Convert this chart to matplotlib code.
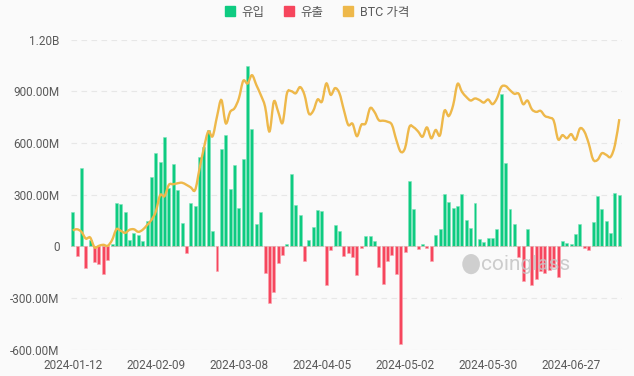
import numpy as np
import matplotlib
matplotlib.use("Agg")
import matplotlib.pyplot as plt
from matplotlib.patches import Patch, PathPatch, Ellipse
from matplotlib.path import Path

plt.rcParams['font.family'] = ['Roboto', 'Noto Sans CJK KR', 'DejaVu Sans']

# daily net flow of BTC spot ETFs, millions USD (trading days from 2024-01-11)
net_flow = [201, -54, 453, -128, 37, -89, -104, -159, -79, 14,
            253, 244, 197, 37, 77, 66, 31, 145, 405, 541,
            492, 634, 337, 477, 327, 134, -37, 250, 234, 521,
            575, 676, 91, -141, 563, 646, 333, 472, 223, 505,
            1045, 681, 132, 197, -155, -327, -263, -95, -52, 14,
            418, 242, 182, -87, 37, 112, 211, 203, -226, -21,
            124, 89, -56, -37, -60, -166, -8, 58, 60, 31,
            -122, -219, -83, -52, -163, -564, -35, 377, 215, -15,
            12, -12, -85, 64, 99, 302, 255, 221, 236, 304,
            151, 106, 250, 41, 25, 46, 46, 103, 885, 486,
            215, 130, -64, -201, 99, -226, -192, -145, -153, -137,
            -118, -176, 29, 19, 12, 72, 128, -12, -21, 141,
            292, 215, 145, 77, 308, 298]

# BTC price, thousands USD
btc_price = [43.1, 43.3, 42.8, 41.5, 41.7, 39.8, 40.1, 40.3, 40.1, 41.2,
             43.3, 43.0, 42.6, 43.2, 43.3, 42.8, 43.2, 44.1, 45.1, 46.7,
             49.9, 49.7, 51.9, 52.0, 52.2, 52.3, 51.9, 51.4, 50.9, 55.0,
             59.0, 62.2, 61.3, 65.1, 68.3, 63.8, 66.0, 66.7, 68.6, 72.0,
             71.5, 73.1, 71.2, 69.3, 67.0, 62.2, 68.0, 66.0, 63.9, 69.6,
             70.0, 69.6, 70.8, 69.3, 65.7, 66.2, 68.4, 68.0, 71.5, 69.3,
             70.6, 69.6, 66.4, 63.5, 63.7, 61.3, 63.5, 63.8, 66.7, 66.0,
             64.4, 64.3, 64.1, 63.5, 60.6, 58.3, 59.0, 63.1, 63.0, 62.2,
             61.2, 63.0, 60.9, 62.5, 61.5, 66.2, 65.2, 67.3, 71.4, 69.9,
             68.9, 68.2, 68.6, 68.3, 67.8, 68.4, 67.5, 68.6, 70.8, 71.0,
             70.2, 69.5, 69.5, 67.5, 68.2, 66.5, 66.0, 66.2, 65.2, 64.9,
             64.3, 60.7, 61.5, 60.9, 61.7, 60.6, 62.8, 62.2, 59.9, 56.8,
             56.7, 58.0, 57.7, 57.3, 59.6, 64.6]

tick_pos = [0, 19, 38, 57, 76, 95, 114]
tick_labels = ['2024-01-12', '2024-02-09', '2024-03-08', '2024-04-05',
               '2024-05-02', '2024-05-30', '2024-06-27']

y_ticks = [-600, -300, 0, 300, 600, 900, 1200]
y_labels = ['-600.00M', '-300.00M', '0', '300.00M', '600.00M', '900.00M', '1.20B']

green = '#0ecb81'
red = '#f6465d'
gold = '#eeb84a'
txt = '#5a5a5a'
bg = '#fafafa'

flow = np.array(net_flow, dtype=float)
x = np.arange(len(flow))
inflow = np.where(flow > 0, flow, 0)
outflow = np.where(flow < 0, flow, 0)

fig = plt.figure(figsize=(6.34, 3.76), dpi=100, facecolor=bg)
ax = fig.add_axes([0.1112, 0.0699, 0.8691, 0.825])
ax.set_facecolor(bg)

for yt in y_ticks:
    ax.axhline(yt, color='#e7e7e7', lw=0.8, ls=(0, (5, 4)), zorder=0)

ax.bar(x, inflow, width=0.68, color=green, edgecolor='#7fe3bb', linewidth=0.4, zorder=2)
ax.bar(x, outflow, width=0.68, color=red, edgecolor='#fba3ae', linewidth=0.4, zorder=2)

ax.set_xlim(-0.5, len(flow) - 0.5)
ax.set_ylim(-600, 1200)
ax.set_yticks(y_ticks)
ax.set_yticklabels(y_labels)
ax.set_xticks(tick_pos)
ax.set_xticklabels(tick_labels)
ax.tick_params(axis='both', length=0, labelsize=8.5, colors=txt)
ax.tick_params(axis='y', pad=8)
ax.tick_params(axis='x', pad=7)
for s in ax.spines.values():
    s.set_visible(False)

# watermark
ax.text(0.825, 0.276, 'coinglass', transform=ax.transAxes, ha='center', va='center',
        fontsize=15, color='#c4c4c4', alpha=0.85, zorder=3, family=['Roboto', 'DejaVu Sans'])
ax.add_patch(Ellipse((0.727, 0.276), 0.032, 0.065, transform=ax.transAxes,
                     color='#c8c8c8', alpha=0.85, zorder=3, lw=0))

# smooth BTC price line drawn as bezier path
ax2 = ax.twinx()
ax2.set_ylim(20, 80)
ax2.axis('off')
pts = np.column_stack([x, np.array(btc_price)])
verts = [pts[0]]
codes = [Path.MOVETO]
n = len(pts)
for i in range(n - 1):
    p0 = pts[max(i - 1, 0)]
    p1 = pts[i]
    p2 = pts[i + 1]
    p3 = pts[min(i + 2, n - 1)]
    c1 = p1 + (p2 - p0) / 6.0
    c2 = p2 - (p3 - p1) / 6.0
    verts += [c1, c2, p2]
    codes += [Path.CURVE4] * 3
ax2.add_patch(PathPatch(Path(verts, codes), facecolor='none', edgecolor=gold,
                        lw=1.7, zorder=4))

handles = [Patch(color=green), Patch(color=red), Patch(color=gold)]
fig.legend(handles, ['유입', '유출', 'BTC 가격'], loc='center', bbox_to_anchor=(0.5, 0.968),
           ncol=3, frameon=False, handlelength=0.8, handleheight=0.8,
           handletextpad=0.5, columnspacing=1.6, prop={'size': 9}, labelcolor=txt)

fig.savefig('out.png', dpi=100, facecolor=bg)
